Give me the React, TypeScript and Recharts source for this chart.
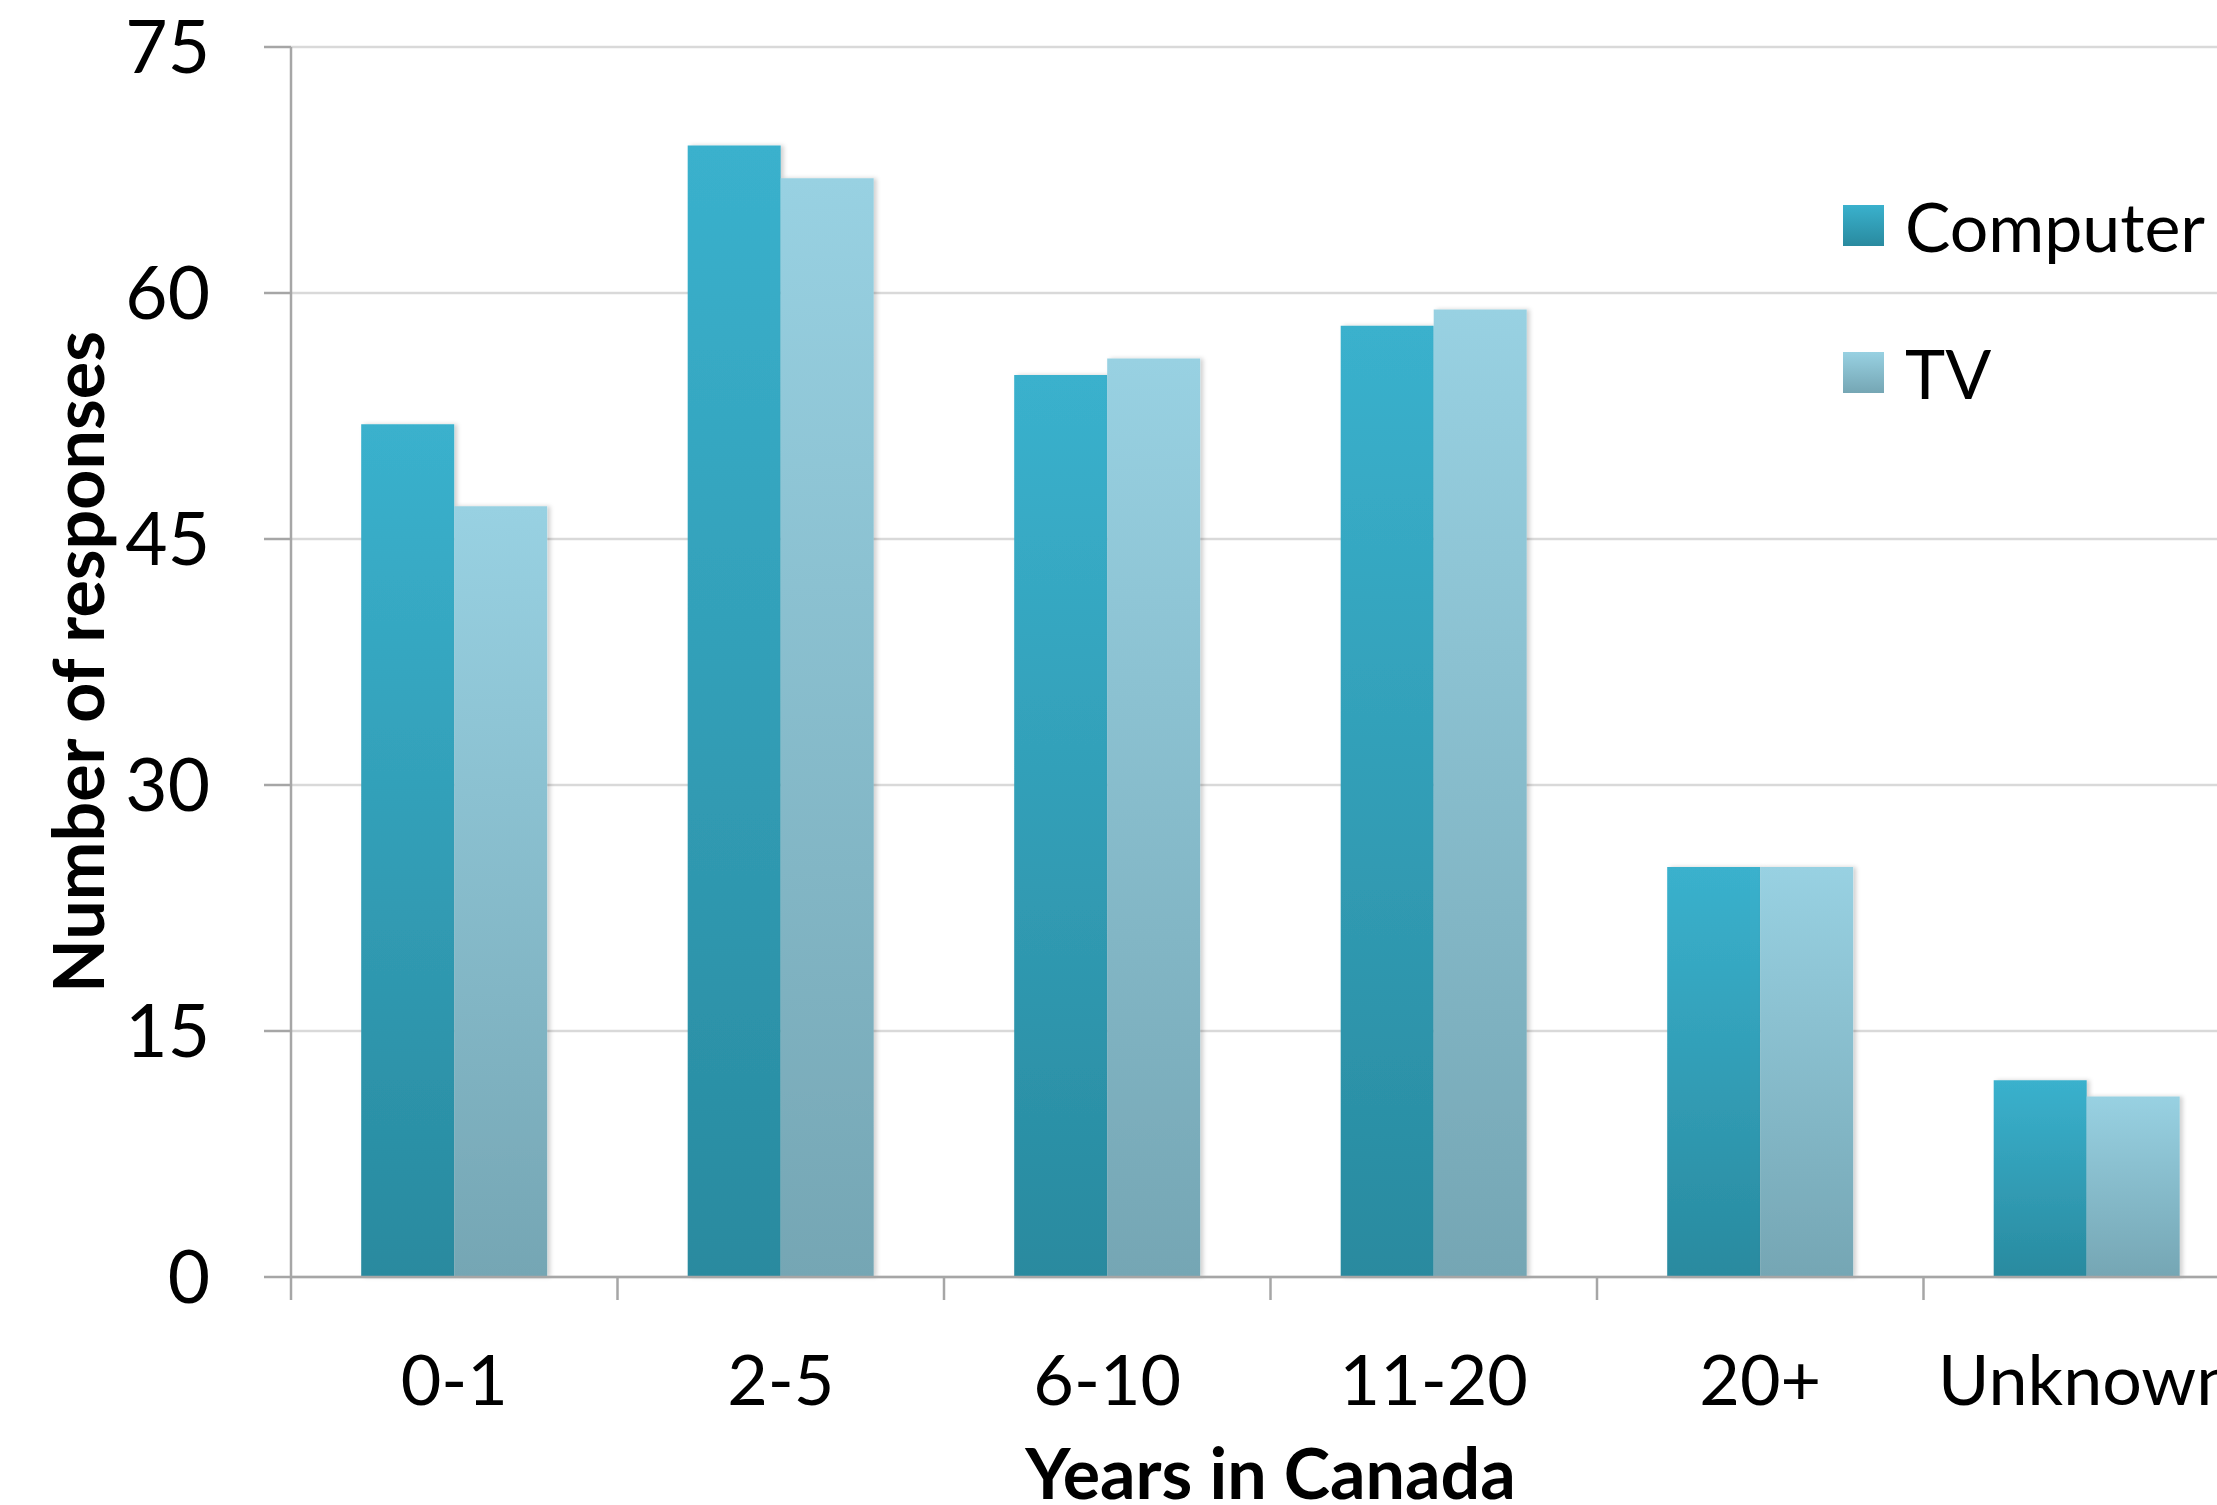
import React from "react";
import { BarChart, Bar, XAxis, YAxis, CartesianGrid, Legend } from "recharts";

const categories = ["0-1", "2-5", "6-10", "11-20", "20+", "Unknown"];
const computerValues = [52, 69, 55, 58, 25, 12];
const tvValues = [47, 67, 56, 59, 25, 11];
const yTicks = [0, 15, 30, 45, 60, 75];

const seriesInfo = [
  { key: "computer", name: "Computer", top: "#3AB1CD", bottom: "#298A9F" },
  { key: "tv", name: "TV", top: "#98D1E2", bottom: "#75A6B4" },
];

const data = categories.map((c, i) => ({
  category: c,
  computer: computerValues[i],
  tv: tvValues[i],
}));

const CHART_W = 2250;
const CHART_H = 1505;
const Y_AXIS_W = 291;
const BAND = (CHART_W - Y_AXIS_W) / categories.length;
const FONT = "Lato, 'Open Sans', sans-serif";
const AXIS_COLOR = "#A6A6A6";

function XTick(props: any) {
  const { x, y, payload } = props;
  return (
    <g>
      <line x1={x - BAND / 2} y1={y} x2={x - BAND / 2} y2={y + 23} stroke={AXIS_COLOR} strokeWidth={2.5} />
      <text x={x} y={y + 78} dy="0.71em" textAnchor="middle" fontSize={70} fill="#000" fontFamily={FONT}>
        {payload.value}
      </text>
    </g>
  );
}

function YTitle(props: any) {
  const vb = props.viewBox || { x: 0, y: 47, width: Y_AXIS_W, height: 1230 };
  const cx = vb.x + 79;
  const cy = vb.y + vb.height / 2;
  return (
    <text x={cx} y={cy} dy="0.35em" transform={`rotate(-90 ${cx} ${cy})`} textAnchor="middle"
      fontSize={70} fontWeight="bold" fill="#000" fontFamily={FONT}>
      Number of responses
    </text>
  );
}

function XTitle(props: any) {
  const vb = props.viewBox || { x: Y_AXIS_W, y: 1277, width: CHART_W - Y_AXIS_W, height: 228 };
  return (
    <text x={vb.x + vb.width / 2} y={vb.y + 222} textAnchor="middle" fontSize={70} fontWeight="bold"
      fill="#000" fontFamily={FONT}>
      Years in Canada
    </text>
  );
}

function LegendBox() {
  return (
    <div style={{ fontFamily: FONT }}>
      {seriesInfo.map((s) => (
        <div key={s.key} style={{ display: "flex", alignItems: "center", height: 147 }}>
          <div style={{ width: 41, height: 41, background: `linear-gradient(${s.top}, ${s.bottom})`, marginRight: 21 }} />
          <span style={{ fontSize: 68, color: "#000", lineHeight: 1 }}>{s.name}</span>
        </div>
      ))}
    </div>
  );
}

export default function App() {
  return (
    <div style={{ position: "fixed", left: 0, top: 0, width: 2217, height: 1505, overflow: "hidden", background: "#fff" }}>
      <BarChart width={CHART_W} height={CHART_H} data={data} margin={{ top: 47, right: 0, bottom: 0, left: 0 }}
        barCategoryGap="21.5%" barGap={0}>
        <defs>
          {seriesInfo.map((s) => (
            <linearGradient key={s.key} id={`grad-${s.key}`} x1="0" y1="0" x2="0" y2="1">
              <stop offset="0%" stopColor={s.top} />
              <stop offset="100%" stopColor={s.bottom} />
            </linearGradient>
          ))}
          <filter id="barShadow" x="-10%" y="-10%" width="130%" height="120%">
            <feDropShadow dx="3" dy="0" stdDeviation="2" floodColor="#000" floodOpacity="0.18" />
          </filter>
        </defs>
        <CartesianGrid vertical={false} stroke="#D9D9D9" strokeWidth={2.5} />
        <XAxis dataKey="category" height={228} tickLine={false} tickSize={0} tickMargin={0}
          axisLine={{ stroke: AXIS_COLOR, strokeWidth: 2.5 }} tick={<XTick />} interval={0}
          label={{ content: <XTitle /> }} />
        <YAxis width={Y_AXIS_W} domain={[0, 75]} ticks={yTicks} interval={0} tickSize={27} tickMargin={54}
          axisLine={{ stroke: AXIS_COLOR, strokeWidth: 2.5 }} tickLine={{ stroke: AXIS_COLOR, strokeWidth: 2.5 }}
          tick={{ fontSize: 73, fill: "#000", fontFamily: FONT }} label={{ content: <YTitle /> }} />
        <Legend layout="vertical" align="center" verticalAlign="middle" content={<LegendBox />}
          wrapperStyle={{ left: 1843, top: 152, width: "auto" }} />
        {seriesInfo.map((s) => (
          <Bar key={s.key} dataKey={s.key} name={s.name} fill={`url(#grad-${s.key})`} filter="url(#barShadow)"
            isAnimationActive={false} />
        ))}
      </BarChart>
    </div>
  );
}
